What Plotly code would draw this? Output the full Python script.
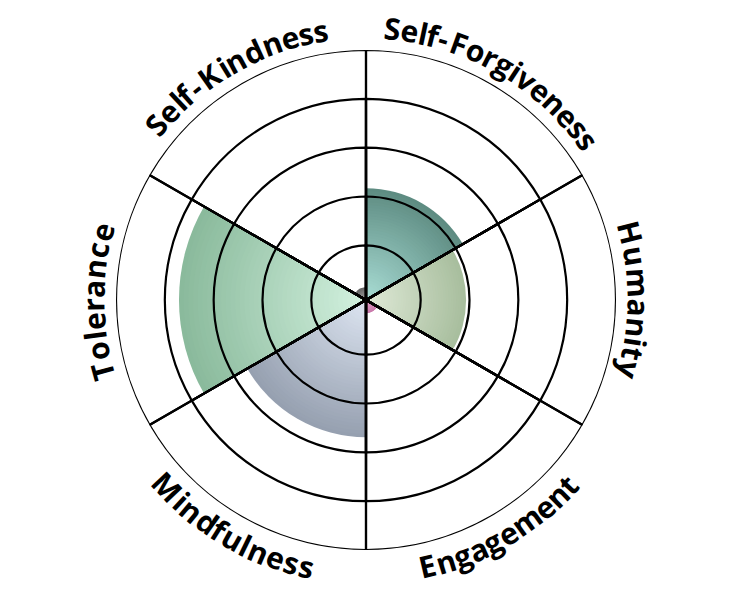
import numpy as np
import plotly.graph_objects as go

# ---------------- data ----------------
categories = ["Self-Forgiveness", "Humanity", "Engagement",
              "Mindfulness", "Tolerance", "Self-Kindness"]
scores = [2.17, 1.93, 0.15, 2.69, 3.71, 0.14]
grid_levels = [1, 2, 3, 4, 5]

# gradient colours (centre -> outer edge) per category
inner_colors = [(170, 222, 214), (224, 234, 216), (230, 170, 205),
                (222, 230, 242), (212, 242, 224), (170, 170, 170)]
outer_colors = [(94, 140, 130), (168, 190, 158), (200, 120, 170),
                (150, 160, 176), (138, 186, 156), (100, 100, 100)]

# ---------------- layout constants ----------------
W, H = 732, 600
CX, CY, R_PX = 366, 300, 250
R_MIN, R_MAX = -0.12, 5
N_LAYERS = 40

fig = go.Figure()

# gradient bars: stacked overlay layers, darkest/largest first
for k in range(N_LAYERS):
    f = 1 - k / N_LAYERS
    cols = []
    for ci, co in zip(inner_colors, outer_colors):
        c = [int(round(a + (b - a) * f)) for a, b in zip(ci, co)]
        cols.append(f"rgb({c[0]},{c[1]},{c[2]})")
    fig.add_trace(go.Barpolar(
        r=[(v - R_MIN) * f for v in scores], theta=categories, base=R_MIN,
        marker=dict(color=cols, line=dict(width=0)),
        hoverinfo="skip", showlegend=False))

# grid rings + spokes drawn above the bars
for lvl in grid_levels:
    fig.add_trace(go.Barpolar(
        r=[lvl - R_MIN] * len(categories), theta=categories, base=R_MIN,
        marker=dict(color="rgba(0,0,0,0)", line=dict(color="black", width=2.2)),
        hoverinfo="skip", showlegend=False))

# ---------------- curved labels ----------------
char_w = {"S": 0.50, "e": 0.53, "l": 0.26, "f": 0.34, "-": 0.35, "F": 0.56,
          "o": 0.57, "r": 0.38, "g": 0.52, "i": 0.26, "v": 0.53, "n": 0.57,
          "s": 0.44, "K": 0.68, "d": 0.57, "H": 0.75, "u": 0.57, "m": 0.85,
          "a": 0.51, "t": 0.37, "y": 0.53, "T": 0.60, "c": 0.47, "M": 0.90,
          "E": 0.56}
# (start angle, end angle) of first/last character centres, compass degrees
label_span = {
    "Self-Forgiveness": (5.6, 54.3, False),
    "Humanity": (75.7, 104.9, False),
    "Engagement": (166.9, 132.4, True),
    "Mindfulness": (226.8, 192.6, True),
    "Tolerance": (254.8, 284.4, False),
    "Self-Kindness": (-50.1, -9.5, False),
}
R_TEXT = 273
annotations = []
for lab in categories:
    a0, a1, bottom = label_span[lab]
    ws = [char_w.get(ch, 0.5) for ch in lab]
    centers = []
    acc = 0
    for w in ws:
        centers.append(acc + w / 2)
        acc += w
    s0, s1 = centers[0], centers[-1]
    for ch, s in zip(lab, centers):
        th = a0 + (a1 - a0) * (s - s0) / (s1 - s0)
        rad = np.radians(th)
        px = CX + R_TEXT * np.sin(rad)
        py = CY - R_TEXT * np.cos(rad)
        ang = th - 180 if bottom else th
        ang = ((ang + 180) % 360) - 180
        annotations.append(dict(
            x=px / W, y=(H - py) / H, xref="paper", yref="paper",
            text=ch, showarrow=False, xanchor="center", yanchor="middle",
            textangle=ang,
            font=dict(family="Open Sans", size=30, color="black", weight="bold")))

fig.update_layout(
    width=W, height=H,
    margin=dict(l=0, r=0, t=0, b=0),
    paper_bgcolor="white",
    showlegend=False,
    polar=dict(
        domain=dict(x=[(CX - R_PX) / W, (CX + R_PX) / W],
                    y=[(H - CY - R_PX) / H, (H - CY + R_PX) / H]),
        bgcolor="white",
        barmode="overlay",
        bargap=0,
        radialaxis=dict(range=[R_MIN, R_MAX], visible=False),
        angularaxis=dict(type="category", direction="clockwise",
                         rotation=60, visible=False),
    ),
    annotations=annotations,
)

fig.write_html("out.html", config={"displayModeBar": False},
               post_script="document.body.style.margin='0';document.body.style.padding='0';")
